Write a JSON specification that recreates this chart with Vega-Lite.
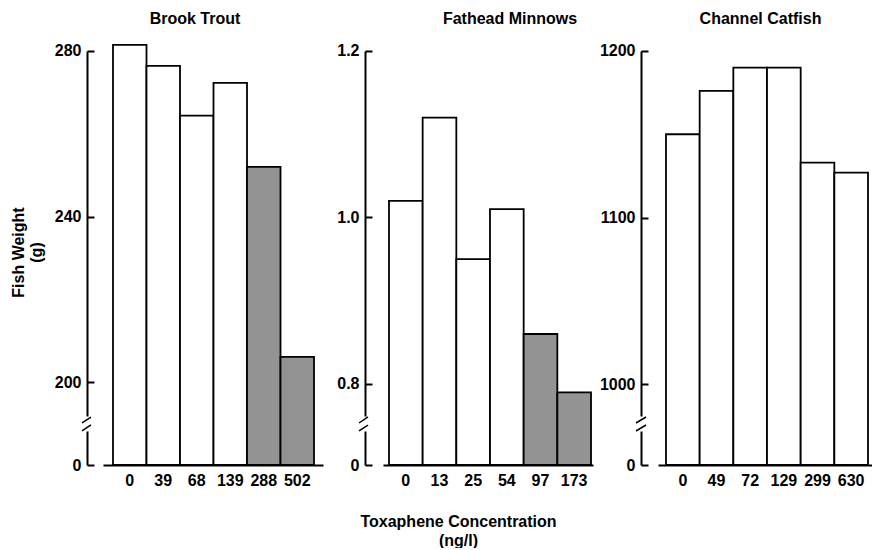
{
  "$schema": "https://vega.github.io/schema/vega-lite/v6.json",
  "padding": {"left": 10, "top": 11, "right": 0, "bottom": 0},
  "background": "white",
  "config": {
    "view": {"stroke": null},
    "font": "Liberation Sans",
    "axis": {
      "grid": false,
      "domainColor": "black",
      "domainWidth": 2,
      "tickColor": "black",
      "tickWidth": 2,
      "labelColor": "black",
      "labelFont": "Liberation Sans",
      "labelFontSize": 16,
      "labelFontWeight": "bold",
      "titleColor": "black",
      "titleFont": "Liberation Sans",
      "titleFontSize": 16,
      "titleFontWeight": "bold"
    },
    "axisY": {"tickSize": -7, "labelPadding": 13, "domainDash": [34, 15, 365, 1000]},
    "axisX": {"ticks": false, "labelAngle": 0, "labelPadding": 7},
    "title": {"font": "Liberation Sans", "fontSize": 16, "fontWeight": "bold", "color": "black", "anchor": "middle"}
  },
  "data": {
    "values": [
      {"species": "Brook Trout", "conc": 0, "weight": 281.5, "effect": "none"},
      {"species": "Brook Trout", "conc": 39, "weight": 276.4, "effect": "none"},
      {"species": "Brook Trout", "conc": 68, "weight": 264.4, "effect": "none"},
      {"species": "Brook Trout", "conc": 139, "weight": 272.3, "effect": "none"},
      {"species": "Brook Trout", "conc": 288, "weight": 252.0, "effect": "reduced"},
      {"species": "Brook Trout", "conc": 502, "weight": 206.1, "effect": "reduced"},
      {"species": "Fathead Minnows", "conc": 0, "weight": 1.02, "effect": "none"},
      {"species": "Fathead Minnows", "conc": 13, "weight": 1.12, "effect": "none"},
      {"species": "Fathead Minnows", "conc": 25, "weight": 0.95, "effect": "none"},
      {"species": "Fathead Minnows", "conc": 54, "weight": 1.01, "effect": "none"},
      {"species": "Fathead Minnows", "conc": 97, "weight": 0.86, "effect": "reduced"},
      {"species": "Fathead Minnows", "conc": 173, "weight": 0.79, "effect": "reduced"},
      {"species": "Channel Catfish", "conc": 0, "weight": 1150, "effect": "none"},
      {"species": "Channel Catfish", "conc": 49, "weight": 1176, "effect": "none"},
      {"species": "Channel Catfish", "conc": 72, "weight": 1190, "effect": "none"},
      {"species": "Channel Catfish", "conc": 129, "weight": 1190, "effect": "none"},
      {"species": "Channel Catfish", "conc": 299, "weight": 1133, "effect": "none"},
      {"species": "Channel Catfish", "conc": 630, "weight": 1127, "effect": "none"}
    ]
  },
  "spacing": 42,
  "bounds": "flush",
  "hconcat": [
    {
      "width": 236,
      "height": 426,
      "title": {"text": "Brook Trout", "dx": -10, "offset": 12},
      "layer": [
        {
          "transform": [{"filter": "datum.species === 'Brook Trout'"}],
          "mark": {"type": "bar", "stroke": "black", "strokeWidth": 1.8},
          "encoding": {
            "x": {
              "field": "conc", "type": "ordinal",
              "scale": {"paddingInner": 0, "paddingOuter": 0.522, "align": 0.743},
              "axis": {"title": null, "domainDash": [0, 16, 220, 1000]}
            },
            "y": {
              "field": "weight", "type": "quantitative",
              "scale": {"domain": [0, 190, 282.9], "range": [426, 384.4, 0], "nice": false},
              "axis": {"values": [0, 200, 240, 280], "format": "d", "title": ["Fish Weight", "(g)"], "titlePadding": 10, "titleLineHeight": 18}
            },
            "fill": {
              "field": "effect", "type": "nominal",
              "scale": {"domain": ["none", "reduced"], "range": ["white", "#939393"]},
              "legend": null
            }
          }
        },
        {
          "data": {"values": [{}]},
          "mark": {"type": "rule", "stroke": "black", "strokeWidth": 1.5},
          "encoding": {"x": {"value": -5}, "x2": {"value": 4}, "y": {"datum": 190.1}, "y2": {"datum": 191.5}}
        },
        {
          "data": {"values": [{}]},
          "mark": {"type": "rule", "stroke": "black", "strokeWidth": 1.5},
          "encoding": {"x": {"value": -5}, "x2": {"value": 4}, "y": {"datum": 155.3}, "y2": {"datum": 182.7}}
        }
      ]
    },
    {
      "width": 234,
      "height": 426,
      "title": {"text": "Fathead Minnows", "dx": 28, "offset": 12},
      "layer": [
        {
          "transform": [{"filter": "datum.species === 'Fathead Minnows'"}],
          "mark": {"type": "bar", "stroke": "black", "strokeWidth": 1.8},
          "encoding": {
            "x": {
              "field": "conc", "type": "ordinal",
              "scale": {"paddingInner": 0, "paddingOuter": 0.475, "align": 0.75},
              "axis": {
                "title": ["Toxaphene Concentration", "(ng/l)"],
                "titleX": 93, "titleAlign": "center", "titlePadding": 25, "titleLineHeight": 19,
                "domainDash": [0, 18, 210, 1000]
              }
            },
            "y": {
              "field": "weight", "type": "quantitative",
              "scale": {"domain": [0, 0.7531, 1.2144], "range": [426, 384, 0], "nice": false},
              "axis": {"values": [0, 0.8, 1.0, 1.2], "title": null, "labelExpr": "datum.value === 0 ? '0' : format(datum.value, '.1f')"}
            },
            "fill": {
              "field": "effect", "type": "nominal",
              "scale": {"domain": ["none", "reduced"], "range": ["white", "#939393"]},
              "legend": null
            }
          }
        },
        {
          "data": {"values": [{}]},
          "mark": {"type": "rule", "stroke": "black", "strokeWidth": 1.5},
          "encoding": {"x": {"value": -6}, "x2": {"value": 3}, "y": {"datum": 0.7531}, "y2": {"datum": 0.7604}}
        },
        {
          "data": {"values": [{}]},
          "mark": {"type": "rule", "stroke": "black", "strokeWidth": 1.5},
          "encoding": {"x": {"value": -6}, "x2": {"value": 3}, "y": {"datum": 0.6097}, "y2": {"datum": 0.7172}}
        }
      ]
    },
    {
      "width": 231,
      "height": 426,
      "title": {"text": "Channel Catfish", "dx": 4, "offset": 12},
      "layer": [
        {
          "transform": [{"filter": "datum.species === 'Channel Catfish'"}],
          "mark": {"type": "bar", "stroke": "black", "strokeWidth": 1.8},
          "encoding": {
            "x": {
              "field": "conc", "type": "ordinal",
              "scale": {"paddingInner": 0, "paddingOuter": 0.4307, "align": 0.862},
              "axis": {"title": null, "domainDash": [0, 17, 214, 1000]}
            },
            "y": {
              "field": "weight", "type": "quantitative",
              "scale": {"domain": [0, 976.6, 1207.2], "range": [426, 384, 0], "nice": false},
              "axis": {"values": [0, 1000, 1100, 1200], "format": "d", "title": null}
            },
            "fill": {
              "field": "effect", "type": "nominal",
              "scale": {"domain": ["none", "reduced"], "range": ["white", "#939393"]},
              "legend": null
            }
          }
        },
        {
          "data": {"values": [{}]},
          "mark": {"type": "rule", "stroke": "black", "strokeWidth": 1.5},
          "encoding": {"x": {"value": -5}, "x2": {"value": 5}, "y": {"datum": 976.6}, "y2": {"datum": 980.2}}
        },
        {
          "data": {"values": [{}]},
          "mark": {"type": "rule", "stroke": "black", "strokeWidth": 1.5},
          "encoding": {"x": {"value": -5}, "x2": {"value": 5}, "y": {"datum": 790.6}, "y2": {"datum": 930.1}}
        }
      ]
    }
  ]
}
